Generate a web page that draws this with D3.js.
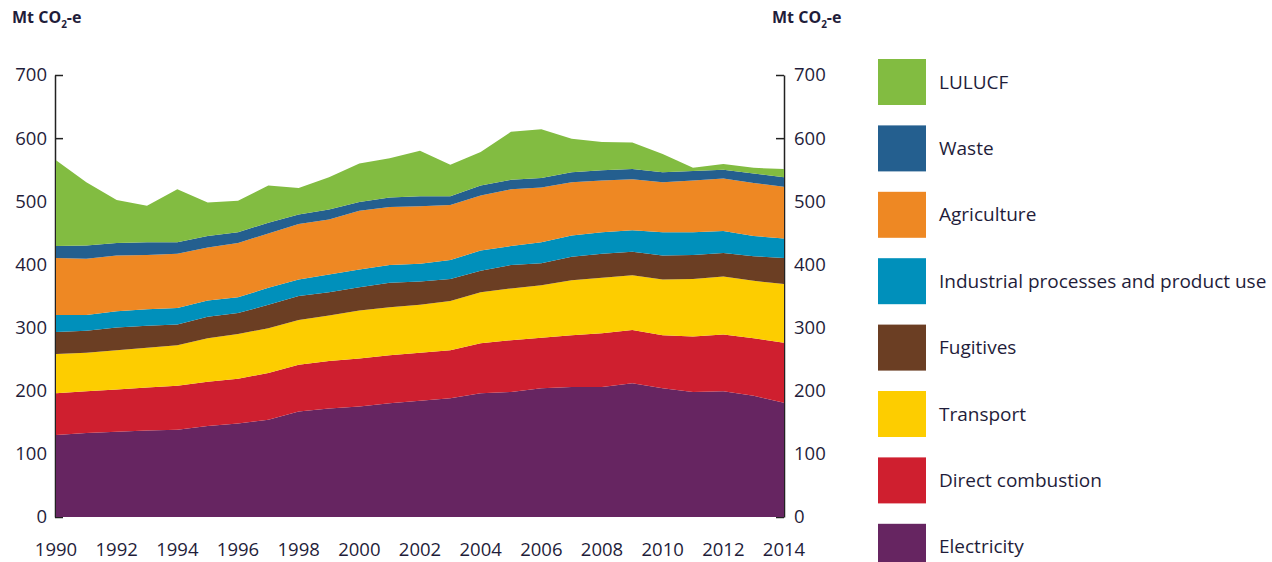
<!DOCTYPE html>
<html>
<head>
<meta charset="utf-8">
<script src="https://cdn.jsdelivr.net/npm/d3@7"></script>
<style>
  body { margin: 0; background: #fff; }
  svg text { font-family: "Open Sans", "Noto Sans", sans-serif; fill: #1f1d3a; }
</style>
</head>
<body>
<div id="chart"></div>
<script>
// years and sector emissions (Mt CO2-e), bottom layer first
const years = d3.range(1990, 2015);
const electricity = [130, 133, 135, 137, 138, 144, 148, 154, 167, 172, 175, 180, 184, 188, 196, 198, 204, 206, 206, 212, 204, 198, 199, 192, 181];
const directCombustion = [66, 66, 67, 68, 70, 70, 71, 74, 74, 75, 76, 76, 76, 76, 79, 82, 80, 82, 85, 84, 84, 88, 90, 91, 95];
const transport = [62, 61, 62, 63, 64, 69, 71, 71, 71, 72, 76, 76, 76, 78, 81, 82, 83, 87, 88, 87, 88, 91, 92, 91, 93];
const fugitives = [35, 35, 36, 35, 33, 34, 33, 37, 38, 37, 37, 39, 37, 35, 34, 37, 35, 37, 38, 37, 38, 38, 37, 39, 41];
const industrial = [27, 25, 26, 26, 26, 26, 25, 27, 26, 28, 28, 28, 28, 30, 32, 30, 33, 34, 34, 34, 37, 36, 35, 32, 31];
const agriculture = [90, 89, 88, 86, 86, 84, 86, 86, 88, 87, 93, 92, 91, 87, 87, 90, 87, 84, 82, 81, 79, 82, 83, 84, 82];
const waste = [19, 21, 20, 20, 18, 18, 17, 17, 15, 16, 14, 15, 16, 14, 16, 15, 15, 16, 16, 16, 16, 15, 14, 15, 15];
const lulucf = [136, 100, 68, 58, 84, 53, 50, 59, 42, 51, 61, 62, 72, 50, 53, 76, 77, 53, 45, 42, 29, 5, 9, 9, 13];

const seriesNames = ["Electricity", "Direct combustion", "Transport", "Fugitives",
  "Industrial processes and product use", "Agriculture", "Waste", "LULUCF"];
const seriesValues = [electricity, directCombustion, transport, fugitives, industrial, agriculture, waste, lulucf];
const colors = ["#662561", "#cf1f2f", "#fdcd00", "#6b3e23", "#0090bb", "#ee8823", "#245f8f", "#82bc41"];
const yTicks = [0, 100, 200, 300, 400, 500, 600, 700];
const xTicks = d3.range(1990, 2015, 2);

const width = 1272, height = 562;

const rows = years.map((yr, i) => {
  const r = { year: yr };
  seriesNames.forEach((n, j) => r[n] = seriesValues[j][i]);
  return r;
});

const stack = d3.stack().keys(seriesNames);
const layers = stack(rows);

const x = d3.scaleLinear().domain([1990, 2014]).range([56, 784]);
const y = d3.scaleLinear().domain([0, 700]).range([517, 75]);
const color = d3.scaleOrdinal().domain(seriesNames).range(colors);

const svg = d3.select("#chart").append("svg")
  .attr("width", width)
  .attr("height", height);

// axes go under the areas, so the inner ticks hide behind the fill
const leftAxis = svg.append("g")
  .attr("transform", "translate(55,0)")
  .call(d3.axisLeft(y).tickValues(yTicks).tickSize(-8).tickSizeOuter(0).tickPadding(8));

const rightAxis = svg.append("g")
  .attr("transform", "translate(784,0)")
  .call(d3.axisRight(y).tickValues(yTicks).tickSize(-8).tickSizeOuter(0).tickPadding(10));

[leftAxis, rightAxis].forEach(g => {
  g.selectAll("path, line").attr("stroke", "#222").attr("stroke-width", 1.5);
  g.selectAll("text").style("font-size", "18.5px").attr("fill", "#1f1d3a");
});

const area = d3.area()
  .x(d => x(d.data.year))
  .y0(d => y(d[0]))
  .y1(d => y(d[1]));

svg.append("g")
  .selectAll("path")
  .data(layers)
  .join("path")
    .attr("fill", d => color(d.key))
    .attr("d", area);

// year labels, no tick marks
svg.append("g")
  .selectAll("text")
  .data(xTicks)
  .join("text")
    .attr("x", d => x(d))
    .attr("y", 556)
    .attr("text-anchor", "middle")
    .style("font-size", "18.5px")
    .text(d => d);

// unit titles
function unitTitle(px) {
  const t = svg.append("text")
    .attr("x", px)
    .attr("y", 23)
    .style("font-size", "16px")
    .style("font-weight", "bold");
  t.append("tspan").text("Mt CO");
  t.append("tspan").attr("dy", 5).style("font-size", "10px").text("2");
  t.append("tspan").attr("dy", -5).text("-e");
}
unitTitle(12);
unitTitle(772);

// legend, top layer first
const legendItems = seriesNames.slice().reverse();
const legend = svg.append("g")
  .selectAll("g")
  .data(legendItems)
  .join("g")
    .attr("transform", (d, i) => `translate(878,${59 + i * 66.4})`);

legend.append("rect")
  .attr("width", 48)
  .attr("height", 46)
  .attr("fill", d => color(d));

legend.append("text")
  .attr("x", 61)
  .attr("y", 23)
  .attr("dy", "0.35em")
  .style("font-size", "19px")
  .text(d => d);
</script>
</body>
</html>
